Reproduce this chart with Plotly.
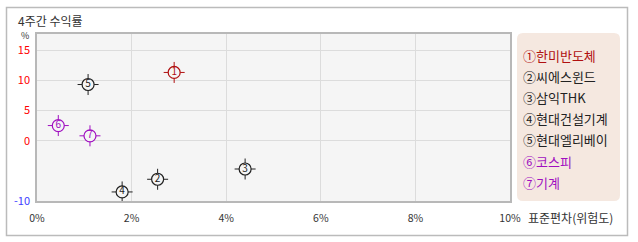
import plotly.graph_objects as go

names = ["한미반도체", "씨에스윈드", "삼익THK", "현대건설기계", "현대엘리베이", "코스피", "기계"]
nums = ["1", "2", "3", "4", "5", "6", "7"]
circled = ["①", "②", "③", "④", "⑤", "⑥", "⑦"]
risk = [2.9, 2.55, 4.4, 1.8, 1.08, 0.45, 1.12]
ret = [11.3, -6.4, -4.7, -8.5, 9.3, 2.5, 0.8]
colors = ["#b01010", "#222222", "#222222", "#222222", "#222222", "#a010c0", "#a010c0"]

x_ticks = [0, 2, 4, 6, 8, 10]
x_ticktext = ["0%", "2%", "4%", "6%", "8%", "10%"]
y_ticks = [-10, 0, 5, 10, 15]
y_tickcolors = ["#4040ff", "#ff0000", "#ff0000", "#ff0000", "#ff0000"]

W, H = 638, 242
L, R, T, B = 37, 510, 34, 201
FONT = "Noto Sans CJK KR"

def px(x):
    return (x - L) / (R - L)

def py(y):
    return (B - y) / (B - T)

fig = go.Figure()
# spikes
fig.add_trace(go.Scatter(x=risk, y=ret, mode="markers", hoverinfo="skip",
                         marker=dict(symbol="cross-thin-open", size=15, color=colors,
                                     line=dict(color=colors, width=1))))
# circles
fig.add_trace(go.Scatter(x=risk, y=ret, mode="markers+text", text=nums,
                         textposition="middle center",
                         textfont=dict(family=FONT, size=10, color=colors),
                         marker=dict(symbol="circle", size=12, color="#f5f5f5",
                                     line=dict(color=colors, width=1.2))))

ytext = [f"<span style='color:{c}'>{v}</span>" for v, c in zip(y_ticks, y_tickcolors)]

fig.update_layout(
    width=W, height=H,
    margin=dict(l=L, r=W - R, t=T, b=H - B),
    paper_bgcolor="white", plot_bgcolor="#f5f5f5",
    showlegend=False,
    font=dict(family=FONT, size=11, color="#333333"),
    xaxis=dict(range=[0, 10], tickvals=x_ticks, ticktext=x_ticktext,
               showgrid=True, gridcolor="#dcdcdc", gridwidth=1,
               showline=True, linecolor="#b8b8b8", linewidth=1.5, mirror=True,
               zeroline=False, ticks="outside", ticklen=7, tickcolor="rgba(0,0,0,0)",
               tickfont=dict(size=10.5, color="#333333"),
               fixedrange=True),
    yaxis=dict(range=[-10, 17.67], tickvals=y_ticks, ticktext=ytext,
               showgrid=True, gridcolor="#dcdcdc", gridwidth=1,
               showline=True, linecolor="#b8b8b8", linewidth=1.5, mirror=True,
               zeroline=False, ticks="outside", ticklen=3, tickcolor="rgba(0,0,0,0)",
               tickfont=dict(size=11),
               fixedrange=True),
)

shapes = []
# outer border
shapes.append(dict(type="rect", xref="paper", yref="paper",
                   x0=px(6.5), x1=px(627.5), y0=py(235.5), y1=py(7.5),
                   line=dict(color="#bbbbbb", width=1.5), fillcolor="rgba(0,0,0,0)", layer="below"))
# legend rounded box
x0, x1, y0, y1, r = 517, 620, 33, 201, 6
path = (f"M {px(x0+r)},{py(y0)} L {px(x1-r)},{py(y0)} Q {px(x1)},{py(y0)} {px(x1)},{py(y0+r)} "
        f"L {px(x1)},{py(y1-r)} Q {px(x1)},{py(y1)} {px(x1-r)},{py(y1)} "
        f"L {px(x0+r)},{py(y1)} Q {px(x0)},{py(y1)} {px(x0)},{py(y1-r)} "
        f"L {px(x0)},{py(y0+r)} Q {px(x0)},{py(y0)} {px(x0+r)},{py(y0)} Z")
shapes.append(dict(type="path", xref="paper", yref="paper", path=path,
                   fillcolor="#f5e8e0", line=dict(width=0)))
fig.update_layout(shapes=shapes)

ann = []
ann.append(dict(x=px(16), y=py(20), xref="paper", yref="paper", text="4주간 수익률",
                showarrow=False, xanchor="left", yanchor="middle",
                font=dict(family=FONT, size=12, color="#333333")))
ann.append(dict(x=px(25), y=py(35), xref="paper", yref="paper", text="%",
                showarrow=False, xanchor="center", yanchor="middle",
                font=dict(family=FONT, size=9, color="#333333")))
ann.append(dict(x=px(526), y=py(217), xref="paper", yref="paper", text="표준편차(위험도)",
                showarrow=False, xanchor="left", yanchor="middle",
                font=dict(family=FONT, size=12, color="#333333")))
for i, (c, n, col) in enumerate(zip(circled, names, colors)):
    ann.append(dict(x=px(521), y=py(55 + i * 21.2), xref="paper", yref="paper",
                    text=f"{c}{n}", showarrow=False, xanchor="left", yanchor="middle",
                    font=dict(family=FONT, size=13, color=col)))
fig.update_layout(annotations=ann)

fig.write_html("out.html")
